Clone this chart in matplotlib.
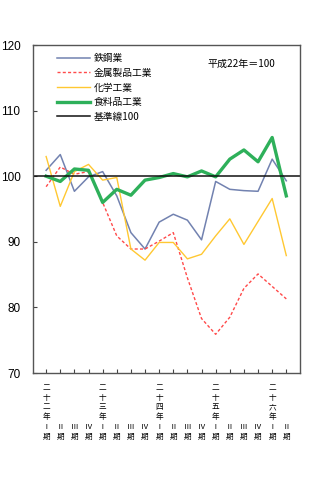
import matplotlib
matplotlib.use("Agg")
import matplotlib.pyplot as plt

# Data
periods = ["二\n十\n二\n年\nⅠ\n期", "Ⅱ\n期", "Ⅲ\n期", "Ⅳ\n期",
           "二\n十\n三\n年\nⅠ\n期", "Ⅱ\n期", "Ⅲ\n期", "Ⅳ\n期",
           "二\n十\n四\n年\nⅠ\n期", "Ⅱ\n期", "Ⅲ\n期", "Ⅳ\n期",
           "二\n十\n五\n年\nⅠ\n期", "Ⅱ\n期", "Ⅲ\n期", "Ⅳ\n期",
           "二\n十\n六\n年\nⅠ\n期", "Ⅱ\n期"]
steel = [100.9, 103.3, 97.7, 99.9, 100.7, 97.0, 91.4, 88.9, 93.0, 94.2,
         93.3, 90.3, 99.2, 98.0, 97.8, 97.7, 102.6, 99.3]
metal = [98.4, 101.4, 100.3, 100.7, 96.0, 90.9, 88.9, 88.9, 90.1, 91.4,
         84.5, 78.3, 75.9, 78.5, 82.9, 85.1, 83.2, 81.3]
chem = [103.0, 95.4, 100.7, 101.8, 99.4, 99.8, 88.9, 87.2, 89.9, 89.9,
        87.4, 88.1, 90.9, 93.5, 89.6, 93.1, 96.6, 87.9]
food = [100.0, 99.2, 101.1, 100.9, 96.0, 98.0, 97.1, 99.4, 99.8, 100.4,
        99.9, 100.8, 99.9, 102.6, 104.0, 102.2, 105.9, 97.0]
baseline = 100
series_names = ["鉄鋼業", "金属製品工業", "化学工業", "食料品工業", "基準線100"]
y_ticks = [70, 80, 90, 100, 110, 120]
note = "平成22年＝100"

# Labels aligned at bottom: pad short labels with blank lines
max_lines = max(p.count("\n") for p in periods)
labels = ["\n" * (max_lines - p.count("\n")) + p for p in periods]

cjk = ["Noto Sans CJK JP", "DejaVu Sans"]

fig = plt.figure(figsize=(3.29, 4.8), dpi=100)
ax = fig.add_axes([33/329, 1-373/480, 267/329, 328/480])

x = list(range(len(periods)))
ax.plot(x, steel, color="#7282B0", lw=1.1, label=series_names[0])
ax.plot(x, metal, color="#FF4A4A", lw=1.0, ls=(0, (2.2, 1.6)), label=series_names[1])
ax.plot(x, chem, color="#FFC832", lw=1.0, label=series_names[2])
ax.plot(x, food, color="#2EB05A", lw=2.4, label=series_names[3])
ax.axhline(baseline, color="#111111", lw=1.1, label=series_names[4])

ax.set_xlim(-0.93, 17.97)
ax.set_ylim(70, 120)
ax.set_yticks(y_ticks)
ax.set_yticklabels([str(v) for v in y_ticks], fontsize=8.5, family="Liberation Sans")
ax.set_xticks(x)
ax.set_xticklabels(labels, fontsize=5.5, family=cjk, linespacing=1.28)
ax.tick_params(axis="both", direction="in", length=3, width=0.8, color="#444444")
ax.tick_params(axis="y", pad=9)
ax.tick_params(axis="x", pad=8)
for s in ax.spines.values():
    s.set_color("#555555")
    s.set_linewidth(1.0)

leg = ax.legend(loc="upper left", bbox_to_anchor=(0.09, 0.975), frameon=False,
                borderpad=0, borderaxespad=0, handlelength=3.4, handletextpad=0.4,
                labelspacing=0.48, prop={"family": cjk, "size": 7})

ax.text(0.655, 0.944, note, transform=ax.transAxes, fontsize=7.2, family=cjk,
        va="center", ha="left")

fig.savefig("out.png", dpi=100)
